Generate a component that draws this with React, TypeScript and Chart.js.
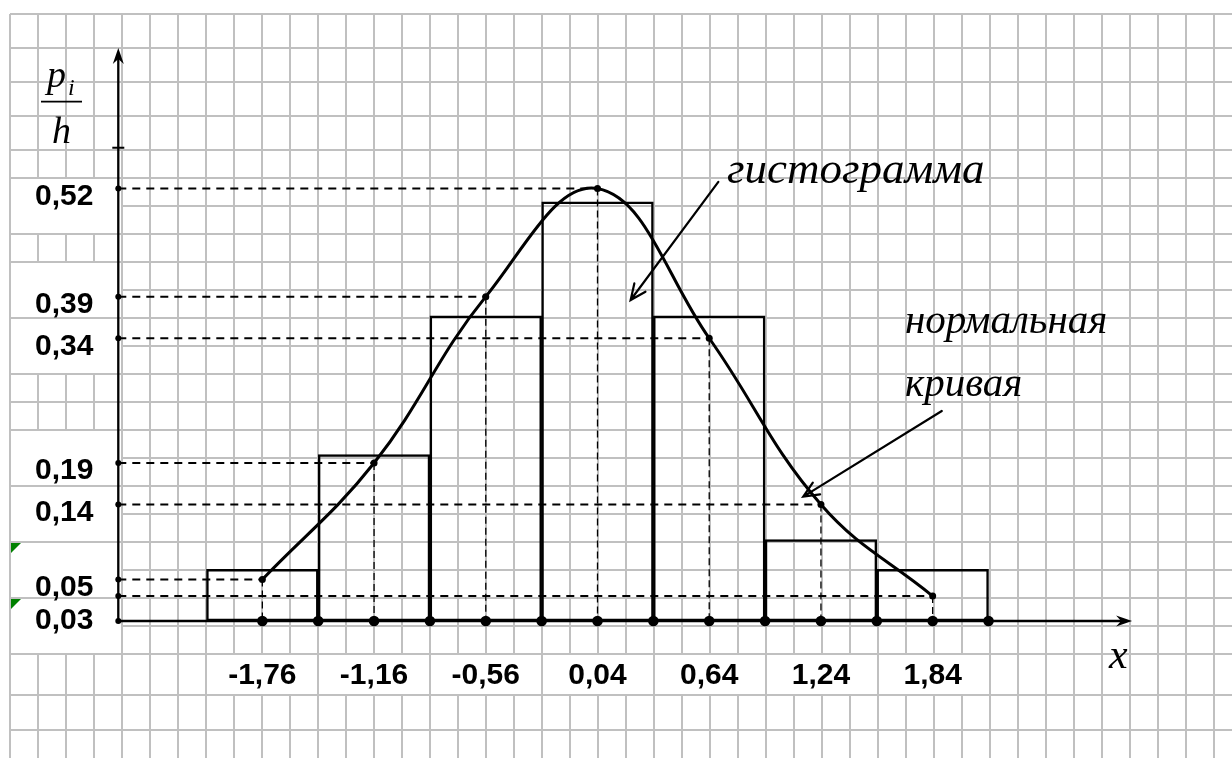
import React, { useEffect, useRef } from "react";
import { Chart, registerables, LinearScale } from "chart.js";

// ---------------- data ----------------
const binEdges = [-2.06, -1.46, -0.86, -0.26, 0.34, 0.94, 1.54, 2.14];
const binCenters = [-1.76, -1.16, -0.56, 0.04, 0.64, 1.24, 1.84];
const histogramHeights = [0.062, 0.2, 0.367, 0.504, 0.367, 0.098, 0.062];
const normalCurve = [0.05, 0.19, 0.39, 0.52, 0.34, 0.14, 0.03];
const xTickLabels = ["-1,76", "-1,16", "-0,56", "0,04", "0,64", "1,24", "1,84"];
const yTickValues = [0.03, 0.05, 0.14, 0.19, 0.34, 0.39, 0.52];
const yTickLabels = ["0,03", "0,05", "0,14", "0,19", "0,34", "0,39", "0,52"];

// ---------------- layout (data units) ----------------
const X_MIN = -3.1152;
const X_MAX = 3.4476;
const Y_MIN = -0.16474;
const Y_MAX = 0.72991;
const Y_AXIS_X = -2.5336;
const Y_AXIS_TOP = 0.689;
const Y_AXIS_MARK = 0.5691;
const X_AXIS_END = 2.911;
const MIN_LABEL_GAP = 24;

const calloutTexts = [
  { text: "гистограмма", x: 0.7355, y: 0.5267, size: 45 },
  { text: "нормальная", x: 1.6915, y: 0.3463, size: 41 },
  { text: "кривая", x: 1.6915, y: 0.27, size: 41 },
];
const calloutArrows = [
  { from: [0.689, 0.528], to: [0.218, 0.386] },
  { from: [1.889, 0.2525], to: [1.145, 0.1495] },
];
const X_TITLE = { text: "x", x: 2.787, y: -0.0565, size: 42 };
const Y_TITLE = {
  num: "p", numAt: [-2.9165, 0.6421],
  sub: "i", subAt: [-2.8037, 0.6325],
  den: "h", denAt: [-2.89, 0.5742],
  barFrom: -2.9487, barTo: -2.7285, barY: 0.6245,
  size: 38, subSize: 24,
};

// ---------------- spreadsheet background (sheet pixels) ----------------
const SHEET_X0 = 10;
const SHEET_COL_W = 28;
const SHEET_COLS = 44;
const SHEET_ROW_LINES = [
  14, 48, 82, 116, 150, 178, 206, 234, 262, 290, 318, 346, 374, 402, 430, 458,
  486, 514, 542, 570, 598, 626, 654, 695, 730,
];
const yLabelCells = [[5, 7], [8, 10], [10, 12], [14, 16], [16, 18], [18, 20], [20, 22]];
const flaggedCells = [5, 6];
const xLabelCellCols = [7, 11, 15, 19, 23, 27, 31, 35];
const xLabelRow = [22, 23];

const GRID_COLOR = "#c0c0c0";
const INK = "#000000";
const LABEL_FONT = { family: "'Liberation Sans', Arial, sans-serif", size: 30, weight: "bold" as const };
const SERIF_ITALIC = "'Liberation Serif', 'Times New Roman', serif";

class LevelScale extends (LinearScale as any) {
  static id = "levelLinear";
  static defaults = (LinearScale as any).defaults;
  getPixelForTick(index: number): number {
    const pixel = super.getPixelForTick(index);
    if (index === 0 && this.ticks.length > 1) {
      const above = super.getPixelForTick(1);
      if (pixel - above < MIN_LABEL_GAP) {
        return this.getPixelForValue(0) - (this.options.ticks.labelOffset || 0);
      }
    }
    return pixel;
  }
}

Chart.register(...registerables, LevelScale as any);

const zeroPadding = (s: any) => {
  s.paddingTop = 0;
  s.paddingBottom = 0;
  s.paddingLeft = 0;
  s.paddingRight = 0;
};

function drawStealth(ctx: CanvasRenderingContext2D, tx: number, ty: number, angle: number) {
  const L = 16, W = 5.5, N = 11;
  const dx = Math.cos(angle), dy = Math.sin(angle);
  const px = -dy, py = dx;
  ctx.beginPath();
  ctx.moveTo(tx, ty);
  ctx.lineTo(tx - L * dx + W * px, ty - L * dy + W * py);
  ctx.lineTo(tx - N * dx, ty - N * dy);
  ctx.lineTo(tx - L * dx - W * px, ty - L * dy - W * py);
  ctx.closePath();
  ctx.fill();
}

const sheetPlugin = {
  id: "sheetAndAxes",
  beforeDatasetsDraw(chart: any) {
    const { ctx } = chart;
    const gx = chart.scales.gx, gy = chart.scales.gy;
    const sx = chart.scales.x, sy = chart.scales.y;
    const colPx = (k: number) => gx.getPixelForValue(SHEET_X0 + SHEET_COL_W * k);
    const rowPx = (r: number) => gy.getPixelForValue(SHEET_ROW_LINES[r]);
    ctx.save();
    ctx.fillStyle = "#ffffff";
    const blank = (c0: number, c1: number, r0: number, r1: number) => {
      const x0 = colPx(c0) + 1, x1 = colPx(c1) - 1;
      const y0 = rowPx(r0) + 1, y1 = rowPx(r1) - 1;
      ctx.fillRect(x0, y0, x1 - x0, y1 - y0);
    };
    yLabelCells.forEach(([r0, r1]) => blank(0, 4, r0, r1));
    for (let i = 0; i < xLabelCellCols.length - 1; i++) {
      blank(xLabelCellCols[i], xLabelCellCols[i + 1], xLabelRow[0], xLabelRow[1]);
    }
    ctx.fillStyle = "#008000";
    flaggedCells.forEach((ci) => {
      const x0 = colPx(0) + 1, y0 = rowPx(yLabelCells[ci][0]) + 1;
      ctx.beginPath();
      ctx.moveTo(x0, y0);
      ctx.lineTo(x0 + 10, y0);
      ctx.lineTo(x0, y0 + 10);
      ctx.closePath();
      ctx.fill();
    });
    const ox = sx.getPixelForValue(Y_AXIS_X), oy = sy.getPixelForValue(0);
    const topY = sy.getPixelForValue(Y_AXIS_TOP);
    const endX = sx.getPixelForValue(X_AXIS_END);
    ctx.strokeStyle = INK;
    ctx.fillStyle = INK;
    ctx.lineWidth = 2.3;
    ctx.beginPath();
    ctx.moveTo(ox, oy);
    ctx.lineTo(ox, topY + 10);
    ctx.moveTo(ox, oy);
    ctx.lineTo(endX - 10, oy);
    ctx.stroke();
    drawStealth(ctx, ox, topY, -Math.PI / 2);
    drawStealth(ctx, endX, oy, 0);
    const my = sy.getPixelForValue(Y_AXIS_MARK);
    ctx.lineWidth = 2;
    ctx.beginPath();
    ctx.moveTo(ox - 6, my);
    ctx.lineTo(ox + 6, my);
    ctx.stroke();
    ctx.restore();
  },
  afterDatasetsDraw(chart: any) {
    const { ctx } = chart;
    const sx = chart.scales.x, sy = chart.scales.y;
    const P = (x: number, y: number) => [sx.getPixelForValue(x), sy.getPixelForValue(y)];
    ctx.save();
    ctx.fillStyle = INK;
    ctx.strokeStyle = INK;
    ctx.textBaseline = "alphabetic";
    ctx.textAlign = "left";
    calloutTexts.forEach((t) => {
      const [x, y] = P(t.x, t.y);
      ctx.font = `italic ${t.size}px ${SERIF_ITALIC}`;
      ctx.fillText(t.text, x, y);
    });
    ctx.lineWidth = 2.2;
    ctx.lineCap = "round";
    calloutArrows.forEach((a) => {
      const [x0, y0] = P(a.from[0], a.from[1]);
      const [x1, y1] = P(a.to[0], a.to[1]);
      const ang = Math.atan2(y1 - y0, x1 - x0);
      const H = 17, spread = 0.42;
      ctx.beginPath();
      ctx.moveTo(x0, y0);
      ctx.lineTo(x1, y1);
      ctx.moveTo(x1 - H * Math.cos(ang - spread), y1 - H * Math.sin(ang - spread));
      ctx.lineTo(x1, y1);
      ctx.lineTo(x1 - H * Math.cos(ang + spread), y1 - H * Math.sin(ang + spread));
      ctx.stroke();
    });
    {
      const [x, y] = P(X_TITLE.x, X_TITLE.y);
      ctx.font = `italic ${X_TITLE.size}px ${SERIF_ITALIC}`;
      ctx.fillText(X_TITLE.text, x, y);
    }
    {
      ctx.font = `italic ${Y_TITLE.size}px ${SERIF_ITALIC}`;
      let [x, y] = P(Y_TITLE.numAt[0], Y_TITLE.numAt[1]);
      ctx.fillText(Y_TITLE.num, x, y);
      [x, y] = P(Y_TITLE.denAt[0], Y_TITLE.denAt[1]);
      ctx.fillText(Y_TITLE.den, x, y);
      ctx.font = `italic ${Y_TITLE.subSize}px ${SERIF_ITALIC}`;
      [x, y] = P(Y_TITLE.subAt[0], Y_TITLE.subAt[1]);
      ctx.fillText(Y_TITLE.sub, x, y);
      const [bx0, by] = P(Y_TITLE.barFrom, Y_TITLE.barY);
      const [bx1] = P(Y_TITLE.barTo, Y_TITLE.barY);
      ctx.lineWidth = 1.6;
      ctx.lineCap = "butt";
      ctx.beginPath();
      ctx.moveTo(bx0, by);
      ctx.lineTo(bx1, by);
      ctx.stroke();
    }
    ctx.restore();
  },
};

export default function App() {
  const canvasRef = useRef<HTMLCanvasElement | null>(null);

  useEffect(() => {
    if (!canvasRef.current) return;
    const histData = binCenters.map((x, i) => ({ x, y: histogramHeights[i] }));
    const curveData = binCenters.map((x, i) => ({ x, y: normalCurve[i] }));
    const hGuides = binCenters.flatMap((x, i) => [
      { x: Y_AXIS_X, y: normalCurve[i] },
      { x, y: normalCurve[i] },
      { x, y: null as any },
    ]);
    const vGuides = binCenters.flatMap((x, i) => [
      { x, y: normalCurve[i] },
      { x, y: 0 },
      { x, y: null as any },
    ]);
    const axisDots = [...binCenters, ...binEdges.slice(1)].map((x) => ({ x, y: 0 }));
    const levelDots = [0, ...normalCurve].map((y) => ({ x: Y_AXIS_X, y }));
    const axes = { xAxisID: "x", yAxisID: "y" };

    const chart = new Chart(canvasRef.current, {
      type: "scatter",
      data: {
        datasets: [
          {
            ...axes,
            type: "scatter",
            label: "axis points",
            data: axisDots,
            pointRadius: 5.3,
            pointBackgroundColor: INK,
            pointBorderWidth: 0,
            order: 0,
          } as any,
          {
            ...axes,
            type: "scatter",
            label: "levels",
            data: levelDots,
            pointRadius: 3,
            pointBackgroundColor: INK,
            pointBorderWidth: 0,
            order: 1,
          } as any,
          {
            ...axes,
            type: "line",
            label: "нормальная кривая",
            data: curveData,
            borderColor: INK,
            borderWidth: 3,
            tension: 0.4,
            pointRadius: 3.5,
            pointBackgroundColor: INK,
            pointBorderWidth: 0,
            fill: false,
            order: 2,
          } as any,
          {
            ...axes,
            type: "line",
            label: "h guides",
            data: hGuides,
            borderColor: INK,
            borderWidth: 2,
            borderDash: [8, 6],
            pointRadius: 0,
            spanGaps: false,
            fill: false,
            order: 4,
          } as any,
          {
            ...axes,
            type: "line",
            label: "v guides",
            data: vGuides,
            borderColor: INK,
            borderWidth: 1.3,
            borderDash: [7, 4],
            pointRadius: 0,
            spanGaps: false,
            fill: false,
            order: 4,
          } as any,
          {
            ...axes,
            type: "bar",
            label: "гистограмма",
            data: histData,
            backgroundColor: "rgba(0,0,0,0)",
            borderColor: INK,
            borderWidth: 1.8,
            borderSkipped: false,
            barPercentage: 1,
            categoryPercentage: 1,
            order: 5,
          } as any,
        ],
      },
      options: {
        animation: false,
        responsive: true,
        maintainAspectRatio: false,
        devicePixelRatio: 1,
        events: [],
        layout: { autoPadding: false, padding: { left: SHEET_X0, top: SHEET_ROW_LINES[0], right: 0, bottom: 0 } },
        plugins: { legend: { display: false }, tooltip: { enabled: false } },
        scales: {
          x: {
            type: "linear",
            position: "bottom",
            min: X_MIN,
            max: X_MAX,
            offset: false,
            afterBuildTicks: (s: any) => {
              s.ticks = binCenters.map((value) => ({ value }));
            },
            afterFit: (s: any) => { s.height = 0; zeroPadding(s); },
            grid: { display: false, drawTicks: false },
            border: { display: false },
            ticks: {
              z: 1,
              mirror: true,
              padding: 64,
              autoSkip: false,
              maxRotation: 0,
              minRotation: 0,
              color: INK,
              font: LABEL_FONT,
              callback: (v: any) => xTickLabels[binCenters.indexOf(v)],
            },
          },
          y: {
            type: "levelLinear",
            position: "left",
            min: Y_MIN,
            max: Y_MAX,
            afterBuildTicks: (s: any) => {
              s.ticks = yTickValues.map((value) => ({ value }));
            },
            afterFit: (s: any) => { s.width = 0; zeroPadding(s); },
            grid: { display: false, drawTicks: false },
            border: { display: false },
            ticks: {
              z: 1,
              mirror: true,
              padding: 25,
              labelOffset: 8,
              autoSkip: false,
              crossAlign: "near",
              color: INK,
              font: LABEL_FONT,
              callback: (v: any) => yTickLabels[yTickValues.indexOf(v)],
            },
          } as any,
          gx: {
            type: "linear",
            position: "bottom",
            min: SHEET_X0,
            max: 1232,
            offset: false,
            afterBuildTicks: (s: any) => {
              s.ticks = Array.from({ length: SHEET_COLS }, (_, k) => ({ value: SHEET_X0 + SHEET_COL_W * k }));
            },
            afterFit: (s: any) => { s.height = 0; zeroPadding(s); },
            ticks: { display: false },
            border: { display: false },
            grid: { color: GRID_COLOR, lineWidth: 2, drawTicks: false, offset: false },
          },
          gy: {
            type: "linear",
            position: "left",
            min: SHEET_ROW_LINES[0],
            max: 758,
            reverse: true,
            afterBuildTicks: (s: any) => {
              s.ticks = SHEET_ROW_LINES.map((value) => ({ value }));
            },
            afterFit: (s: any) => { s.width = 0; zeroPadding(s); },
            ticks: { display: false },
            border: { display: false },
            grid: { color: GRID_COLOR, lineWidth: 2, drawTicks: false },
          },
        },
      },
      plugins: [sheetPlugin],
    } as any);
    return () => chart.destroy();
  }, []);

  return (
    <div style={{ position: "absolute", left: 0, top: 0, width: 1232, height: 758, background: "#ffffff" }}>
      <canvas ref={canvasRef} />
    </div>
  );
}
